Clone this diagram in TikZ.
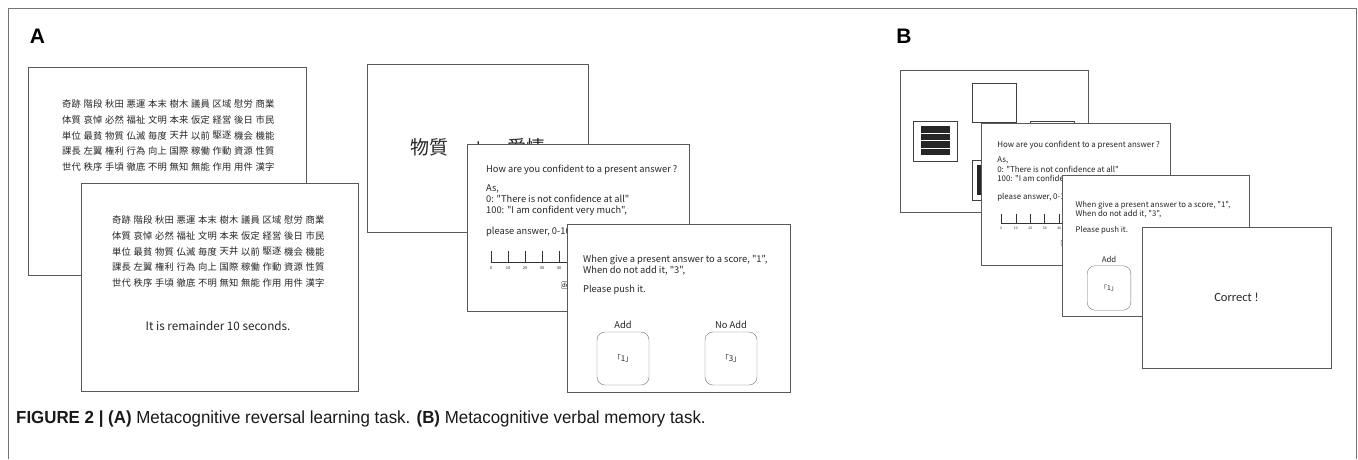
\documentclass[tikz,border=0pt]{standalone}
\usepackage{fontspec}
\setmainfont{Liberation Sans}
\newfontfamily\jpfont{Noto Sans CJK JP}
\newfontfamily\capfont[FakeStretch=0.965]{Liberation Sans}
\newfontfamily\calfont{Carlito}
\usetikzlibrary{positioning}

\tikzset{
  screen/.style={draw=black!65, fill=white, line width=0.9pt, inner sep=0pt},
  txt/.style={font=\jpfont\fontsize{9.3}{11}\selectfont, text=black!85, anchor=base west,
    align=left, inner sep=0pt},
  word/.style={font=\jpfont\fontsize{9.3}{10}\selectfont, text=black!85, anchor=west, inner sep=0pt},
  cue/.style={font=\jpfont\fontsize{19}{19}\selectfont, text=black!85, inner sep=0pt},
  tickno/.style={font=\jpfont\fontsize{4}{4}\selectfont, text=black!85, inner sep=0pt},
  keybox/.style={draw=black!55, rounded corners=8pt, minimum width=52pt, minimum height=53pt,
    font=\jpfont\fontsize{8}{8}\selectfont, text=black!85, inner sep=0pt},
  panel/.style={font=\bfseries\fontsize{21}{21}\selectfont},
  figure/.style={draw=black!55, line width=1pt},
  stim/.style={draw=black!75, line width=0.9pt, fill=white, inner sep=0pt},
  bar/.style={fill=black!85},
}

\newcommand{\jpwords}{{奇跡,階段,秋田,悪運,本末,樹木,議員,区域,慰労,商業},{体質,哀悼,必然,福祉,文明,本来,仮定,経営,後日,市民},{単位,最貧,物質,仏滅,毎度,天井,以前,駆逐,機会,機能},{課長,左翼,権利,行為,向上,国際,稼働,作動,資源,性質},{世代,秩序,手頃,徹底,不明,無知,無能,作用,用件,漢字}}

% confidence rating screen, drawn from its top left corner
% (a multi-line txt node sits on the baseline of its last line)
\newcommand{\confscreen}[1]{%
  \node[screen, minimum width=222pt, minimum height=167pt, anchor=north west] (#1) at (0,0) {};
  \node[txt] (#1q) at (19,28.5) {How are you confident to a present answer ?};
  \node[txt] (#1as) at (19,69) {As,\\0: "There is not confidence at all"\\100: "I am confident very much",};
  \node[txt] (#1ask) at (19,90.5) {please answer, 0-100};
  \draw[black!80, line width=0.6pt] (24,118) -- (194,118);
  \foreach \lab [count=\tk from 0] in {0,10,...,100} {
    \draw[black!80, line width=0.6pt] (24+17*\tk,107) -- (24+17*\tk,118);
    \node[tickno] (#1n\tk) at (24+17*\tk,124) {\lab};
  }
  \node[draw=black!55, rounded corners=1pt, anchor=west, inner sep=1pt,
    font=\jpfont\fontsize{6}{6}\selectfont] (#1ok) at (94,141) {decide};
}

% add / no add screen, drawn from its top left corner
\newcommand{\addscreen}[1]{%
  \node[screen, minimum width=223pt, minimum height=168pt, anchor=north west] (#1) at (0,0) {};
  \node[txt] (#1rule) at (16,49.5) {When give a present answer to a score, "1",\\When do not add it, "3",};
  \node[txt] (#1push) at (16,68.5) {Please push it.};
  \node[keybox] (#1add) at (56,134.5) {「1」};
  \node[txt, anchor=south] (#1addl) at ([yshift=3pt]#1add.north) {Add};
  \node[keybox] (#1no) at (164,134.5) {「3」};
  \node[txt, anchor=south] (#1nol) at ([yshift=3pt]#1no.north) {No Add};
}

\begin{document}
\begin{tikzpicture}[x=1pt, y=-1pt]
  \useasboundingbox (0,0) rectangle (1358,459);
  \draw[figure] (8,459) |- (1356,8) -- (1356,459);
  \node[panel] (labA) at (37.5,36) {A};
  \node[panel] (labB) at (904,36) {B};

  % panel A
  \node[screen, minimum width=278pt, minimum height=208pt, anchor=north west] (studyback) at (28,67) {};
  \foreach \row [count=\r from 0] in \jpwords
    \foreach \w [count=\k from 0] in \row
      \node[word] (wb\r-\k) at (62+21.5*\k, 104+15.75*\r) {\w};
  \node[screen, minimum width=277pt, minimum height=208pt, anchor=north west] (studyfront) at (81,183) {};
  \foreach \row [count=\r from 0] in \jpwords
    \foreach \w [count=\k from 0] in \row
      \node[word] (wf\r-\k) at (112+21.5*\k, 220+15.75*\r) {\w};
  \node[txt, anchor=center, font=\jpfont\fontsize{11.7}{12}\selectfont] (remain) at (218,326) {It is remainder 10 seconds.};

  \node[screen, minimum width=221pt, minimum height=168pt, anchor=north west] (test) at (367,64) {};
  \node[cue] (cueleft) at (429,147) {物質};
  \node[cue] (cross) at (479,148) {+};
  \node[cue] (cueright) at (526,147) {愛情};

  \begin{scope}[shift={(467,144)}]
    \confscreen{confA}
  \end{scope}
  \begin{scope}[shift={(567,224)}]
    \addscreen{addA}
  \end{scope}

  % panel B
  \node[screen, minimum width=188pt, minimum height=142pt, anchor=north west] (pattern) at (900,70) {};
  \node[stim, minimum width=44pt, minimum height=39pt] (sqtop) at (994,102.5) {};
  \node[stim, minimum width=44pt, minimum height=40pt] (sqleft) at (935,141) {};
  \node[stim, minimum width=44pt, minimum height=40pt] (sqright) at (1052,141) {};
  \node[stim, minimum width=44pt, minimum height=40pt] (sqbottom) at (994,180) {};
  \foreach \i in {0,...,3}
    \fill[bar] (921,126+7.5*\i) rectangle +(29,6.6);
  \foreach \i in {0,...,3}
    \fill[bar] (977+7.5*\i,165) rectangle +(6.6,30);

  \begin{scope}[shift={(981,123)}, scale=0.85, transform shape]
    \confscreen{confB}
  \end{scope}
  \begin{scope}[shift={(1062,175)}, scale=0.84, transform shape]
    \addscreen{addB}
  \end{scope}
  \node[screen, minimum width=189pt, minimum height=141pt, text=black!85,
    font=\calfont\fontsize{12.5}{12.5}\selectfont] (correct) at (1236.5,297.5) {Correct !};

  \node[anchor=west, inner sep=0pt, text=black!90, font=\capfont\fontsize{17.5}{17.5}\selectfont] (caption) at (16,419)
    {\textbf{FIGURE 2 | (A)} Metacognitive reversal learning task. \textbf{(B)} Metacognitive verbal memory task.};
\end{tikzpicture}
\end{document}
